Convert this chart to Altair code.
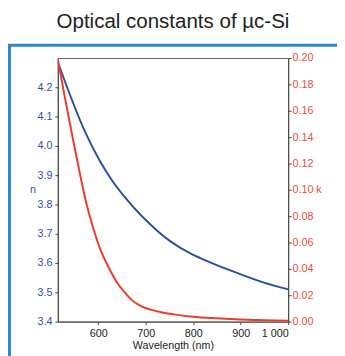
import altair as alt
import pandas as pd

title_text = "Optical constants of µc-Si"

wl_n = [515, 517, 575, 603, 630, 657, 726, 753, 794, 815, 881, 949, 1000]
n_vals = [4.287, 4.278, 4.039, 3.950, 3.880, 3.823, 3.708, 3.673, 3.633, 3.617, 3.573, 3.533, 3.510]

wl_k = [515, 530, 545, 560, 575, 590, 605, 623, 640, 655, 671, 690, 712, 735, 760, 800, 850, 900, 950, 1000]
k_vals = [0.199, 0.170, 0.142, 0.115, 0.090, 0.0705, 0.0545, 0.0405, 0.0295, 0.0225, 0.0163, 0.0118, 0.0089, 0.0069, 0.0055, 0.0037, 0.0025, 0.0016, 0.0011, 0.0007]

x_ticks = [600, 700, 800, 900, 1000]
n_ticks = [3.4, 3.5, 3.6, 3.7, 3.8, 3.9, 4.0, 4.1, 4.2]
k_ticks = [0.0, 0.02, 0.04, 0.06, 0.08, 0.10, 0.12, 0.14, 0.16, 0.18, 0.20]

BLUE = "#2C4FA3"
RED = "#EE3A29"
BORDER = "#2B86CB"
FONT = "Liberation Sans"

df_n = pd.DataFrame({"wl": wl_n, "n": n_vals})
df_k = pd.DataFrame({"wl": wl_k, "k": k_vals})

xenc = alt.X(
    "wl:Q",
    scale=alt.Scale(domain=[515, 1000], nice=False, zero=False),
    axis=alt.Axis(
        values=x_ticks,
        title="Wavelength (nm)",
        labelExpr="datum.value == 1000 ? '1 000' : datum.label",
        labelColor="#222",
        titleColor="#222",
        labelFontSize=11,
        titleFontSize=11,
        titleFontWeight="normal",
        labelFont=FONT,
        titleFont=FONT,
        tickSize=3,
        labelPadding=3,
        titlePadding=2,
        domainColor="#444",
        tickColor="#444",
        grid=False,
    ),
)

border = alt.Chart(pd.DataFrame({"a": [0]})).mark_rect(
    fill="white", fillOpacity=0, stroke=BORDER, strokeWidth=3, clip=False
).encode(
    x=alt.value(-49.5),
    x2=alt.value(400),
    y=alt.value(-13),
    y2=alt.value(400),
)

line_n = alt.Chart(df_n).mark_line(
    color=BLUE, strokeWidth=2, clip=True, interpolate="monotone"
).encode(
    x=xenc,
    y=alt.Y(
        "n:Q",
        scale=alt.Scale(domain=[3.4, 4.3], nice=False, zero=False),
        axis=alt.Axis(
            orient="left",
            values=n_ticks,
            format=".1f",
            title="n",
            titleAngle=0,
            titleX=-26,
            titleY=135,
            titleAlign="center",
            titleBaseline="middle",
            labelColor="#2E4FA5",
            titleColor="#2E4FA5",
            labelFontSize=11,
            titleFontSize=11,
            titleFontWeight="normal",
            labelFont=FONT,
            titleFont=FONT,
            tickSize=3,
            labelPadding=3,
            domainColor="#444",
            tickColor="#444",
            grid=False,
        ),
    ),
)

line_k = alt.Chart(df_k).mark_line(
    color=RED, strokeWidth=2, clip=True, interpolate="monotone"
).encode(
    x=alt.X("wl:Q"),
    y=alt.Y(
        "k:Q",
        scale=alt.Scale(domain=[0, 0.2], nice=False),
        axis=alt.Axis(
            orient="right",
            values=k_ticks,
            format=".2f",
            title="k",
            titleAngle=0,
            titleX=31,
            titleY=135,
            titleAlign="center",
            titleBaseline="middle",
            labelColor="#F04A38",
            titleColor="#F04A38",
            labelFontSize=11,
            titleFontSize=11,
            titleFontWeight="normal",
            labelFont=FONT,
            titleFont=FONT,
            tickSize=3,
            labelPadding=1,
            domainColor="#444",
            tickColor="#444",
            grid=False,
        ),
    ),
)

chart = (
    alt.layer(border, line_n, line_k)
    .resolve_scale(y="independent")
    .properties(
        width=236,
        height=270,
        padding={"left": 51, "top": 47, "right": 50, "bottom": 31},
        autosize=alt.AutoSizeParams(type="none"),
        title=alt.TitleParams(
            text=title_text,
            fontSize=21,
            font=FONT,
            fontWeight="normal",
            color="#222",
            anchor="middle",
            frame="group",
            offset=12,
        ),
    )
    .configure_view(stroke="#666", strokeWidth=1)
)

chart.save("out.html", embed_options={"renderer": "svg", "actions": False})
